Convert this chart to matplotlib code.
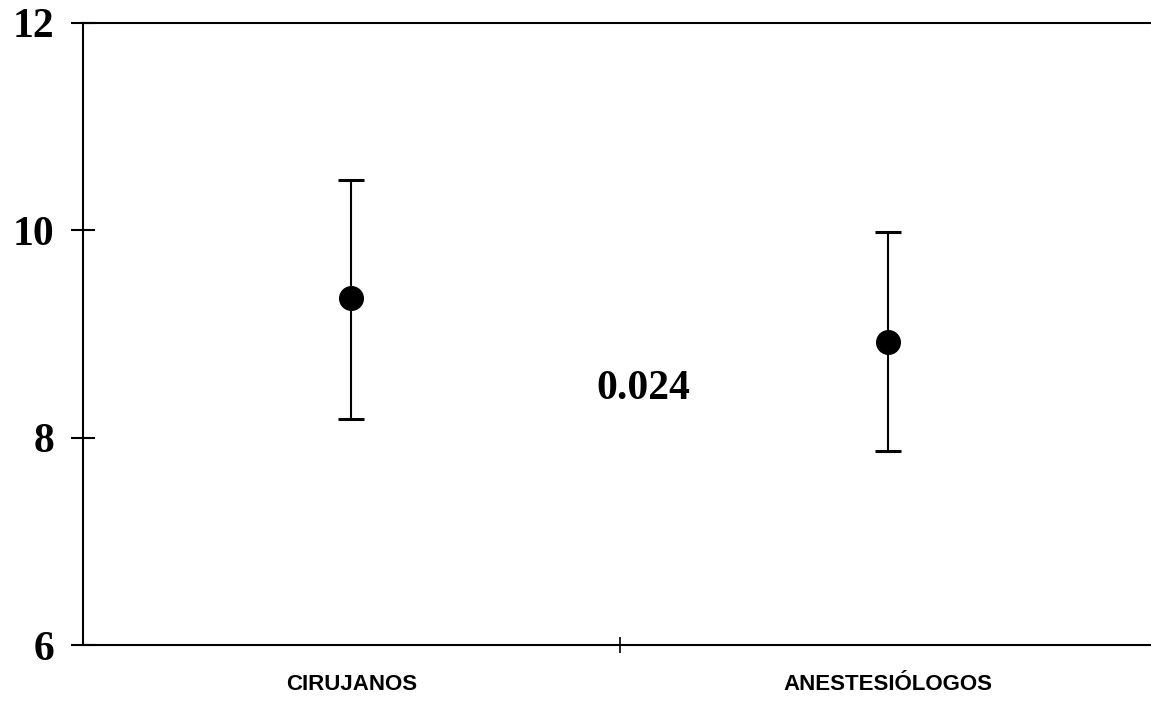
import matplotlib
matplotlib.use('Agg')
import matplotlib.pyplot as plt

groups = ['CIRUJANOS', 'ANESTESIÓLOGOS']
means = [9.35, 8.92]
upper = [10.48, 9.98]
lower = [8.18, 7.87]
p_value = '0.024'

yerr = [[m - lo for m, lo in zip(means, lower)],
        [hi - m for m, hi in zip(means, upper)]]
xpos = [1, 2]

fig = plt.figure(figsize=(11.51, 7.03), dpi=100)
ax = fig.add_axes([0.072, 0.0825, 0.928, 0.885])

ax.errorbar(xpos, means, yerr=yerr, fmt='o', color='black', ecolor='black',
            markersize=17, elinewidth=1.5, capsize=9.5, capthick=2.2)

ax.text(1.545, 8.47, p_value, ha='center', va='center', fontsize=30,
        fontweight='bold', family='Liberation Serif')

ax.set_xlim(0.5, 2.49)
ax.set_ylim(6, 12)
ax.set_yticks([6, 8, 10, 12])
ax.set_yticklabels(['6', '8', '10', '12'], fontsize=30, fontweight='bold',
                   family='Liberation Serif')
ax.tick_params(axis='y', direction='inout', length=17, width=1.5, pad=12)

ax.set_xticks(xpos)
ax.set_xticklabels(groups, fontsize=16, fontweight='bold',
                   family='Liberation Sans')
ax.tick_params(axis='x', which='major', length=0, pad=21)
ax.set_xticks([1.5], minor=True)
ax.tick_params(axis='x', which='minor', direction='inout', length=12, width=1.2)

ax.spines['right'].set_visible(False)
for s in ['left', 'bottom', 'top']:
    ax.spines[s].set_linewidth(1.5)

fig.savefig('out.png', dpi=100)
